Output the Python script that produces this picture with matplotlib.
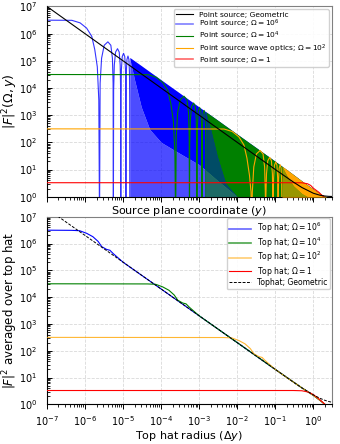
import matplotlib
matplotlib.use("Agg")
import matplotlib.pyplot as plt
from matplotlib.lines import Line2D
from matplotlib.ticker import LogLocator, NullFormatter

# ---------------- top panel: point source ----------------
geo_x = [1e-7, 1e-5, 1e-3, 1e-2, 0.1, 0.3, 0.5, 1.0, 1.5, 2.0, 2.5, 3.0]
geo_val = [1e7, 1e5, 1e3, 100, 10.0, 3.44, 2.18, 1.34, 1.13, 1.06, 1.03, 1.02]

# plateau + first resolved lobes (values below 1 fall off the axis)
ps6_x = [1e-7, 4.5e-7, 7.4e-7, 1.1e-6, 1.5e-6, 1.8e-6, 2.1e-6, 2.3e-6, 2.4e-6,
         2.49e-6, 2.72e-6, 3.19e-6, 3.98e-6, 4.76e-6, 5.24e-6, 5.46e-6, 5.55e-6,
         5.64e-6, 5.87e-6, 6.34e-6, 7.13e-6, 7.91e-6, 8.39e-6, 8.61e-6, 8.7e-6,
         8.79e-6, 9.02e-6, 9.49e-6, 1.028e-5, 1.106e-5, 1.154e-5, 1.176e-5, 1.185e-5,
         1.194e-5, 1.217e-5, 1.264e-5, 1.343e-5, 1.421e-5, 1.469e-5, 1.491e-5, 1.5e-5]
ps6_val = [3.14e6, 3.1e6, 2.5e6, 1.6e6, 8e5, 2.6e5, 6e4, 3.6e3, 0.1,
           1.5e4, 1.25e5, 3.75e5, 5e5, 3.75e5, 1.25e5, 1.5e4, 0.1,
           8.4e3, 7e4, 2.1e5, 2.8e5, 2.1e5, 7e4, 8.4e3, 0.1,
           5.7e3, 4.75e4, 1.43e5, 1.9e5, 1.43e5, 4.75e4, 5.7e3, 0.1,
           4.5e3, 3.75e4, 1.13e5, 1.5e5, 1.13e5, 3.75e4, 4.5e3, 0.1]

ps4_x = [1e-7, 4.5e-5, 7.4e-5, 1.1e-4, 1.5e-4, 1.8e-4, 2.1e-4, 2.3e-4, 2.4e-4,
         2.49e-4, 2.72e-4, 3.19e-4, 3.98e-4, 4.76e-4, 5.24e-4, 5.46e-4, 5.55e-4,
         5.64e-4, 5.87e-4, 6.34e-4, 7.13e-4, 7.91e-4, 8.39e-4, 8.61e-4, 8.7e-4,
         8.79e-4, 9.02e-4, 9.49e-4, 1.028e-3, 1.106e-3, 1.154e-3, 1.176e-3, 1.185e-3,
         1.194e-3, 1.217e-3, 1.264e-3, 1.343e-3, 1.421e-3, 1.469e-3, 1.491e-3, 1.5e-3]
ps4_val = [3.14e4, 3.1e4, 2.5e4, 1.6e4, 8e3, 2.6e3, 600, 36, 0.1,
           150, 1.25e3, 3.75e3, 5e3, 3.75e3, 1.25e3, 150, 0.1,
           84, 700, 2.1e3, 2.8e3, 2.1e3, 700, 84, 0.1,
           57, 475, 1.43e3, 1.9e3, 1.43e3, 475, 57, 0.1,
           45, 375, 1.13e3, 1.5e3, 1.13e3, 375, 45, 0.1]

ps2_x = [1e-7, 4.5e-3, 7.4e-3, 1.1e-2, 1.5e-2, 1.8e-2, 2.1e-2, 2.3e-2, 2.4e-2,
         2.49e-2, 2.72e-2, 3.19e-2, 3.98e-2, 4.76e-2, 5.24e-2, 5.46e-2, 5.55e-2,
         5.64e-2, 5.87e-2, 6.34e-2, 7.13e-2, 7.91e-2, 8.39e-2, 8.61e-2, 8.7e-2,
         8.79e-2, 9.02e-2, 9.49e-2, 0.1028, 0.1106, 0.1154, 0.1176, 0.1185,
         0.1194, 0.1217, 0.1264, 0.1343, 0.1421, 0.1469, 0.1491, 0.15]
ps2_val = [314, 310, 250, 160, 80, 26, 6, 1.5, 0.1,
           1.5, 12.5, 37.5, 50, 37.5, 12.5, 1.5, 0.1,
           0.84, 7, 21, 28, 21, 7, 0.84, 0.1,
           0.57, 4.75, 14.3, 19, 14.3, 4.75, 0.57, 0.1,
           0.45, 3.75, 11.3, 15, 11.3, 3.75, 0.45, 0.1]

ps0_x = [1e-7, 0.3, 0.5, 0.7, 0.85, 1.0, 1.2, 1.4, 1.6, 1.75, 2.0, 2.5, 3.0]
ps0_val = [3.27, 3.27, 3.25, 3.0, 2.6, 2.05, 1.7, 1.45, 1.2, 1.08, 0.9, 0.85, 0.95]

# unresolved fast oscillations: upper envelope and the depth below which
# the trace is only partly filled
b6_x = [1.5e-5, 2e-5, 3e-5, 5e-5, 1e-4, 3e-4, 1e-3, 3e-3, 1e-2, 3e-2, 0.1, 0.3, 0.5, 1.0, 1.5, 2.0, 2.3]
b6_top = [1.33e5, 1e5, 6.7e4, 4e4, 2e4, 6.7e3, 2e3, 670, 200, 67, 20, 6.5, 3.8, 1.9, 1.3, 1.05, 0.9]
b6_floor = [1.2e5, 2e4, 2e3, 300, 100, 40, 15, 4, 1, 1, 1, 1, 1, 1, 1, 1, 0.9]

b4_x = [1.5e-3, 2e-3, 3e-3, 5e-3, 1e-2, 3e-2, 0.1, 0.3, 0.5, 1.0, 1.5, 2.0, 2.3]
b4_top = [1.33e3, 1e3, 670, 400, 200, 67, 20, 6.5, 3.8, 1.9, 1.3, 1.05, 0.9]
b4_floor = [1.2e3, 300, 30, 3, 1, 1, 1, 1, 1, 1, 1, 1, 0.9]

b2_x = [0.15, 0.2, 0.3, 0.5, 0.7, 1.0, 1.5, 2.0, 2.3]
b2_top = [13.3, 10, 6.5, 3.8, 2.7, 1.9, 1.3, 1.05, 0.9]
b2_floor = [13, 6, 2.5, 1.3, 1, 1, 1, 1, 0.9]

# ---------------- bottom panel: top hat ----------------
th_geo_x = [1e-7, 1e-5, 1e-3, 1e-2, 0.1, 0.3, 0.5, 1.0, 1.5, 2.0, 2.5, 3.0]
th_geo_val = [2e7, 2e5, 2e3, 200, 20, 6.7, 4.1, 2.24, 1.67, 1.41, 1.28, 1.2]

th6_x = [1e-7, 4.4e-7, 7.2e-7, 1.1e-6, 1.6e-6, 2.2e-6, 2.75e-6, 3.7e-6, 4.5e-6, 5.5e-6,
         7.4e-6, 1e-5, 1e-4, 1e-3, 1e-2, 0.1, 0.5, 1.0, 1.5, 2.0, 2.2]
th6_val = [3.14e6, 3.1e6, 3.0e6, 2.4e6, 1.8e6, 1.2e6, 7.6e5, 6e5, 5.6e5, 4.2e5,
           2.9e5, 2.0e5, 2e4, 2e3, 200, 20, 4.1, 2.15, 1.4, 1.0, 0.9]

th4_x = [1e-7, 4.4e-5, 7.2e-5, 1.1e-4, 1.6e-4, 2.2e-4, 2.75e-4, 3.7e-4, 4.5e-4, 5.5e-4,
         7.4e-4, 1e-3, 1e-2, 0.1, 0.5, 1.0, 1.5, 2.0, 2.2]
th4_val = [3.14e4, 3.1e4, 3.0e4, 2.4e4, 1.8e4, 1.2e4, 7.6e3, 6e3, 5.6e3, 4.2e3,
           2.9e3, 2.0e3, 200, 20, 4.1, 2.15, 1.4, 1.0, 0.9]

th2_x = [1e-7, 4.4e-3, 7.2e-3, 1.1e-2, 1.6e-2, 2.2e-2, 2.75e-2, 3.7e-2, 4.5e-2, 5.5e-2,
         7.4e-2, 0.1, 0.2, 0.5, 1.0, 1.5, 2.0, 2.2]
th2_val = [314, 310, 300, 240, 180, 120, 76, 60, 56, 42, 29, 20, 10, 4.1, 2.15, 1.4, 1.0, 0.9]

th0_x = [1e-7, 0.3, 0.5, 0.7, 0.85, 1.0, 1.3, 1.6, 1.9, 2.1]
th0_val = [3.27, 3.27, 3.2, 2.9, 2.6, 2.3, 1.75, 1.35, 1.08, 0.95]

plt.rcParams['font.family'] = ['DejaVu Sans']
plt.rcParams['mathtext.fontset'] = 'dejavusans'

fig = plt.figure(figsize=(3.4, 4.44), dpi=100)
W, H = 340.0, 444.0
ax1 = fig.add_axes([47 / W, 1 - 196.7 / H, (331.5 - 47) / W, (196.7 - 6.5) / H])
ax2 = fig.add_axes([47 / W, 1 - 404.3 / H, (331.5 - 47) / W, (404.3 - 216.7) / H])

lw = 0.8
# top panel
ax1.fill_between(b6_x, 0.5, b6_floor, color='blue', alpha=0.7, lw=0, zorder=1)
ax1.fill_between(b6_x, b6_floor, b6_top, color='blue', lw=0, zorder=1)
ax1.plot(ps6_x, ps6_val, color='blue', lw=lw, alpha=0.8, zorder=1)

ax1.fill_between(b4_x, 0.5, b4_floor, color='green', alpha=0.6, lw=0, zorder=2)
ax1.fill_between(b4_x, b4_floor, b4_top, color='green', lw=0, zorder=2)
ax1.plot(ps4_x, ps4_val, color='green', lw=lw, zorder=2)

ax1.fill_between(b2_x, 0.5, b2_floor, color='orange', alpha=0.6, lw=0, zorder=3)
ax1.fill_between(b2_x, b2_floor, b2_top, color='orange', lw=0, zorder=3)
ax1.plot(ps2_x, ps2_val, color='orange', lw=lw, zorder=3)

ax1.plot(ps0_x, ps0_val, color='red', lw=lw, zorder=4)
ax1.plot(geo_x, geo_val, color='black', lw=lw, zorder=5)

top_handles = [
    Line2D([], [], color='black', lw=lw),
    Line2D([], [], color='blue', lw=1.2, alpha=0.5),
    Line2D([], [], color='green', lw=lw),
    Line2D([], [], color='orange', lw=lw),
    Line2D([], [], color='red', lw=1.2, alpha=0.6),
]
top_labels = ['Point source; Geometric',
              r'Point source; $\Omega = 10^6$',
              r'Point source; $\Omega = 10^4$',
              r'Point source wave optics; $\Omega = 10^2$',
              r'Point source; $\Omega = 1$']
ax1.legend(top_handles, top_labels, loc='upper right', fontsize=5.4,
           borderaxespad=0.35, labelspacing=0.0, borderpad=0.3,
           handlelength=2.3, framealpha=0.9)
ax1.set_ylabel(r'$|F|^2(\Omega, y)$', fontsize=9)
ax1.yaxis.set_label_coords(-0.095, 0.5)
ax1.set_xlabel(r'Source plane coordinate $(y)$', fontsize=8, labelpad=0)

# bottom panel
ax2.plot(th6_x, th6_val, color='blue', lw=lw, zorder=1)
ax2.plot(th4_x, th4_val, color='green', lw=lw, zorder=2)
ax2.plot(th2_x, th2_val, color='orange', lw=lw, alpha=0.8, zorder=3)
ax2.plot(th0_x, th0_val, color='red', lw=lw, zorder=4)
ax2.plot(th_geo_x, th_geo_val, color='black', lw=0.7, ls=(0, (3, 1.5)), zorder=5)

bot_handles = [
    Line2D([], [], color='blue', lw=1.2, alpha=0.6),
    Line2D([], [], color='green', lw=1.2, alpha=0.7),
    Line2D([], [], color='orange', lw=1.2, alpha=0.55),
    Line2D([], [], color='red', lw=lw),
    Line2D([], [], color='black', lw=0.7, ls=(0, (3, 1.5))),
]
bot_labels = [r'Top hat; $\Omega = 10^6$', r'Top hat; $\Omega = 10^4$',
              r'Top hat; $\Omega = 10^2$', r'Top hat; $\Omega = 1$',
              'Tophat; Geometric']
ax2.legend(bot_handles, bot_labels, loc='upper right', fontsize=5.5,
           borderaxespad=0.2, labelspacing=0.02, borderpad=0.35,
           handlelength=2.8, framealpha=0.9)
ax2.set_ylabel(r'$|F|^2$ averaged over top hat', fontsize=8.5)
ax2.yaxis.set_label_coords(-0.095, 0.5)
ax2.set_xlabel(r'Top hat radius $(\Delta y)$', fontsize=8, labelpad=1)

for ax in (ax1, ax2):
    ax.set_xscale('log')
    ax.set_yscale('log')
    ax.set_xlim(1e-7, 3.0)
    ax.set_ylim(1, 1e7)
    ax.xaxis.set_major_locator(LogLocator(base=10, numticks=20))
    ax.yaxis.set_major_locator(LogLocator(base=10, numticks=20))
    ax.xaxis.set_minor_locator(LogLocator(base=10, subs=range(2, 10), numticks=20))
    ax.yaxis.set_minor_locator(LogLocator(base=10, subs=range(2, 10), numticks=20))
    ax.xaxis.set_minor_formatter(NullFormatter())
    ax.yaxis.set_minor_formatter(NullFormatter())
    ax.grid(True, which='major', ls='--', color='0.85', lw=0.6)
    ax.set_axisbelow(True)
    ax.tick_params(axis='both', labelsize=7, width=0.7)
    ax.tick_params(axis='x', which='major', direction='out', length=3.5)
    ax.tick_params(axis='x', which='minor', direction='out', length=2)
    ax.tick_params(axis='y', which='major', direction='in', length=3.5, pad=7)
    ax.tick_params(axis='y', which='minor', direction='in', length=2)
    for s in ('left', 'bottom'):
        ax.spines[s].set_color('black')
    for s in ('top', 'right'):
        ax.spines[s].set_color('0.5')

ax1.tick_params(axis='x', labelbottom=False)

fig.savefig('out.png', dpi=100)
